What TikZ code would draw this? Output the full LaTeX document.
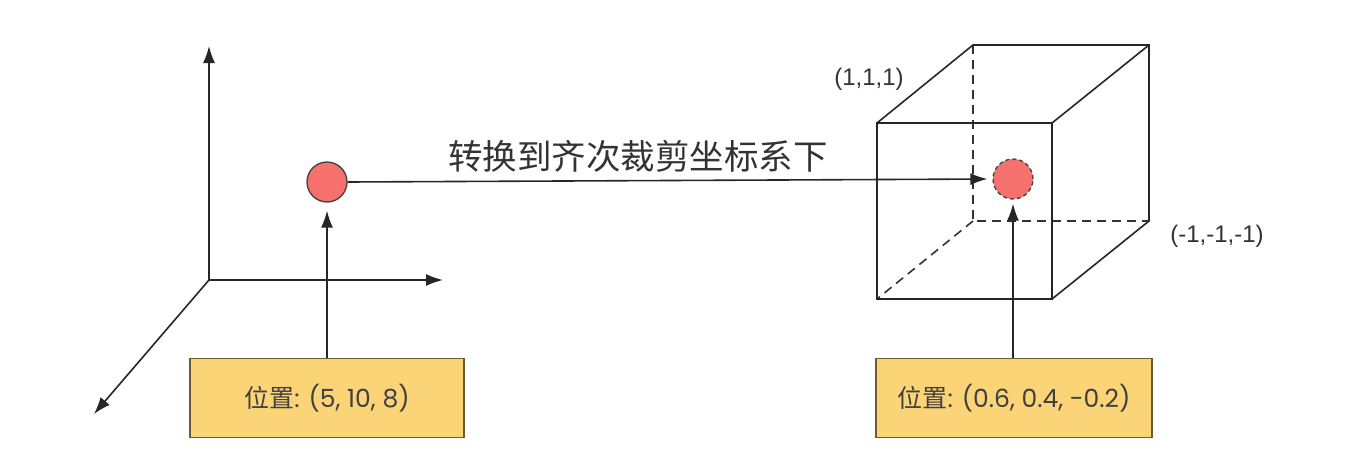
\documentclass[tikz,border=0pt]{standalone}
\usepackage{fontspec}
\setmainfont{Poppins}
\newfontfamily\cjk{Noto Sans CJK SC}
\newfontfamily\lab{Liberation Sans}
\usetikzlibrary{arrows.meta}
\definecolor{ptred}{RGB}{246,112,110}
\definecolor{boxfill}{RGB}{250,212,118}
\definecolor{boxline}{RGB}{110,90,50}
\tikzset{
  x=1pt, y=-1pt,
  ln/.style={line width=1.6pt, draw=black!85},
  arr/.style={ln, -{Latex[length=17pt,width=12pt]}},
  pt/.style={circle, minimum size=40pt, inner sep=0pt, fill=ptred, draw=black!75, line width=1.3pt},
  posbox/.style={rectangle, fill=boxfill, draw=boxline, line width=1.3pt, minimum height=79pt, inner sep=0pt, font=\fontsize{25}{28}\selectfont, text=black!75},
  edge/.style={line width=1.6pt, draw=black!85},
  hidden/.style={line width=1.6pt, draw=black!80, dash pattern=on 9pt off 6pt},
  coordlab/.style={font=\lab\fontsize{24}{28}\selectfont, text=black!80}
}
\begin{document}
\begin{tikzpicture}
\useasboundingbox (0,0) rectangle (1358,458);
% left axes
\coordinate (O) at (209,280);
\coordinate (Ay) at (209,46);
\coordinate (Ax) at (443,280);
\coordinate (Az) at (94,414);
\draw[arr] (O) -- (Ay);
\draw[arr] (O) -- (Ax);
\draw[arr] (O) -- (Az);
% left point and box
\node[pt] (p1) at (327,182) {};
\node[posbox, minimum width=274pt] (b1) at (327,398) {{\cjk 位置}: (5, 10, 8)};
\draw[arr, shorten >=8pt] (b1.north) -- (p1.south);
% cube
\coordinate (F1) at (877,123);
\coordinate (F2) at (1052,123);
\coordinate (F3) at (1052,299);
\coordinate (F4) at (877,299);
\coordinate (B1) at (973,45);
\coordinate (B2) at (1149,45);
\coordinate (B3) at (1149,221);
\coordinate (B4) at (973,221);
\draw[hidden] (B1) -- (B4) -- (B3);
\draw[hidden] (B4) -- (F4);
\draw[edge] (F1) -- (F2) -- (F3) -- (F4) -- cycle;
\draw[edge] (F1) -- (B1) -- (B2) -- (B3) -- (F3);
\draw[edge] (F2) -- (B2);
\node[coordlab] (l1) at (869,79) {(1,1,1)};
\node[coordlab] (l2) at (1217,236) {(-1,-1,-1)};
% right point and box
\node[pt, dashed, dash pattern=on 4pt off 3pt] (p2) at (1013,179) {};
\node[posbox, minimum width=276pt] (b2) at (1014,398) {{\cjk 位置}: (0.6, 0.4, -0.2)};
\draw[arr, shorten >=4pt] (b2.north -| p2) -- (p2.south);
% transform arrow
\draw[arr, shorten >=5pt] (p1.east) -- (p2.west);
\node[font=\cjk\fontsize{34.5}{38}\selectfont, text=black!80] (t) at (638,156) {转换到齐次裁剪坐标系下};
\end{tikzpicture}
\end{document}
